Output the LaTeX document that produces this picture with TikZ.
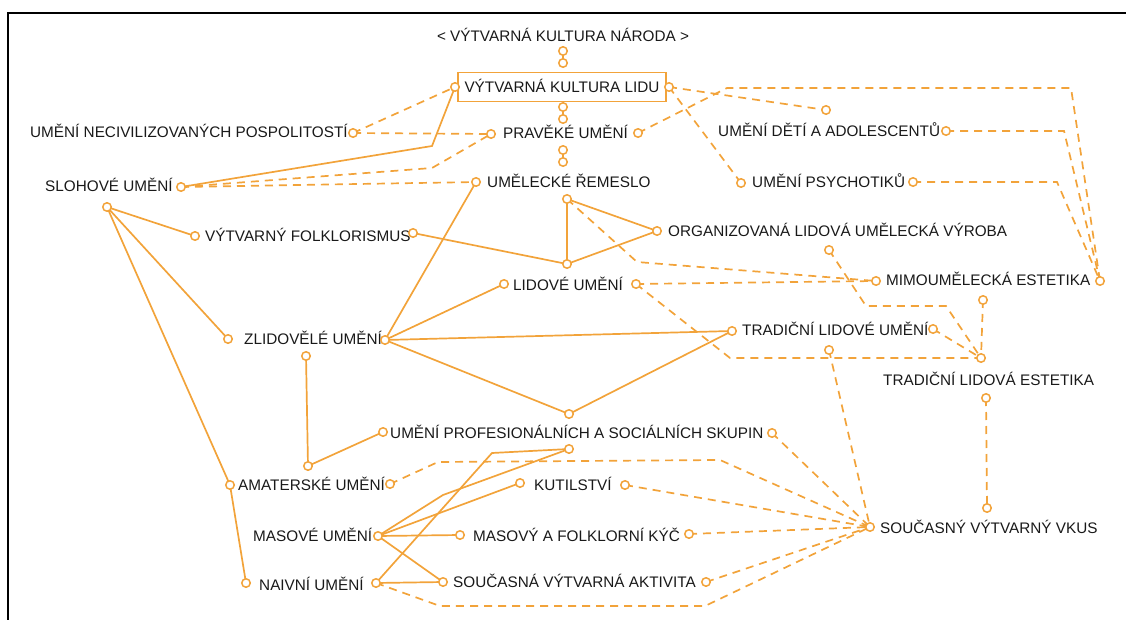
\documentclass[tikz,border=0pt]{standalone}
\usepackage{fontspec}
\setmainfont{Liberation Sans}
\definecolor{ornge}{RGB}{242,163,58}
\tikzset{
  lbl/.style={anchor=west, inner sep=0pt, text height=10.9pt, text depth=0pt, text=black!90, font=\fontsize{15.3}{18}\selectfont},
  link/.style={draw=ornge, line width=1.7pt},
  dlink/.style={link, dash pattern=on 8pt off 6pt},
  port/.style={circle, draw=ornge, fill=white, line width=1.5pt, minimum size=8.5pt, inner sep=0pt},
}

\begin{document}
\begin{tikzpicture}[x=1pt,y=-1pt]
	\useasboundingbox (0,0) rectangle (1126,620);
	\draw[line width=2pt] (7.5,630) -- (7.5,13.5) -- (1135,13.5);
	%\draw[help lines] (0,0) grid[step=50] (1126,620);

	% labels
	\node[lbl, anchor=center] (narod) at (563,36) {< VÝTVARNÁ KULTURA NÁRODA >};
	\node[lbl, anchor=center, draw=ornge, line width=1.7pt, minimum width=208pt, minimum height=29pt] (lidu) at (562,87) {VÝTVARNÁ KULTURA LIDU};
	\node[lbl] (prav) at (503,133) {PRAVĚKÉ UMĚNÍ};
	\node[lbl] (rem) at (487,182) {UMĚLECKÉ ŘEMESLO};
	\node[lbl] (neciv) at (30,132) {UMĚNÍ NECIVILIZOVANÝCH POSPOLITOSTÍ};
	\node[lbl] (slo) at (45,186) {SLOHOVÉ UMĚNÍ};
	\node[lbl] (deti) at (718,131) {UMĚNÍ DĚTÍ A ADOLESCENTŮ};
	\node[lbl] (psych) at (752,182) {UMĚNÍ PSYCHOTIKŮ};
	\node[lbl] (folk) at (205,236) {VÝTVARNÝ FOLKLORISMUS};
	\node[lbl] (org) at (668,231) {ORGANIZOVANÁ LIDOVÁ UMĚLECKÁ VÝROBA};
	\node[lbl] (lid) at (513,285) {LIDOVÉ UMĚNÍ};
	\node[lbl] (mimo) at (886,280) {MIMOUMĚLECKÁ ESTETIKA};
	\node[lbl] (zlid) at (244,339) {ZLIDOVĚLÉ UMĚNÍ};
	\node[lbl] (tlu) at (742,330) {TRADIČNÍ LIDOVÉ UMĚNÍ};
	\node[lbl] (tle) at (883,380) {TRADIČNÍ LIDOVÁ ESTETIKA};
	\node[lbl] (prof) at (390,433) {UMĚNÍ PROFESIONÁLNÍCH A SOCIÁLNÍCH SKUPIN};
	\node[lbl] (amat) at (238,485) {AMATERSKÉ UMĚNÍ};
	\node[lbl] (kut) at (534,485) {KUTILSTVÍ};
	\node[lbl] (mas) at (253,536) {MASOVÉ UMĚNÍ};
	\node[lbl] (kyc) at (473,536) {MASOVÝ A FOLKLORNÍ KÝČ};
	\node[lbl] (naiv) at (259,585) {NAIVNÍ UMĚNÍ};
	\node[lbl] (akt) at (453,582) {SOUČASNÁ VÝTVARNÁ AKTIVITA};
	\node[lbl] (vkus) at (880,528) {SOUČASNÝ VÝTVARNÝ VKUS};

	% ports
	\coordinate (narod-b) at (563,51);
	\coordinate (lidu-t) at (563,63);
	\coordinate (lidu-b) at (563,107);
	\coordinate (lidu-l) at (455,87);
	\coordinate (lidu-r) at (669,87);
	\coordinate (prav-t) at (563,119);
	\coordinate (prav-b) at (563,150);
	\coordinate (prav-l) at (491,134);
	\coordinate (prav-r) at (638,133);
	\coordinate (rem-t) at (563,162);
	\coordinate (rem-l) at (476,182);
	\coordinate (rem-b) at (567,199);
	\coordinate (neciv-r) at (353,133);
	\coordinate (slo-r) at (181,187);
	\coordinate (slo-b) at (107,207);
	\coordinate (deti-t) at (826,110);
	\coordinate (deti-r) at (946,131);
	\coordinate (psych-l) at (741,183);
	\coordinate (psych-r) at (913,182);
	\coordinate (folk-l) at (195,236);
	\coordinate (folk-r) at (413,233);
	\coordinate (org-l) at (657,231);
	\coordinate (org-b) at (829,250);
	\coordinate (lid-l) at (504,284);
	\coordinate (lid-r) at (636,284);
	\coordinate (lid-t) at (567,264);
	\coordinate (mimo-l) at (876,281);
	\coordinate (mimo-r) at (1100,281);
	\coordinate (mimo-b) at (983,300);
	\coordinate (zlid-l) at (228,339);
	\coordinate (zlid-r) at (385,340);
	\coordinate (zlid-b) at (306,356);
	\coordinate (tlu-l) at (732,331);
	\coordinate (tlu-r) at (933,329);
	\coordinate (tlu-b) at (829,350);
	\coordinate (tle-t) at (981,358);
	\coordinate (tle-b) at (986,398);
	\coordinate (prof-l) at (383,432);
	\coordinate (prof-r) at (772,433);
	\coordinate (prof-t) at (569,414);
	\coordinate (prof-b) at (569,449);
	\coordinate (amat-l) at (230,485);
	\coordinate (amat-r) at (390,484);
	\coordinate (amat-t) at (308,466);
	\coordinate (kut-l) at (520,483);
	\coordinate (kut-r) at (625,485);
	\coordinate (mas-r) at (378,536);
	\coordinate (kyc-l) at (460,535);
	\coordinate (kyc-r) at (689,534);
	\coordinate (naiv-l) at (246,583);
	\coordinate (naiv-r) at (376,583);
	\coordinate (akt-l) at (443,582);
	\coordinate (akt-r) at (706,582);
	\coordinate (vkus-l) at (870,527);
	\coordinate (vkus-t) at (987,508);

	% spine
	\draw[link] (narod-b) -- (lidu-t);
	\draw[link] (lidu-b) -- (prav-t);
	\draw[link] (prav-b) -- (rem-t);

	% upper left
	\draw[dlink] (neciv-r) -- (lidu-l);
	\draw[dlink] (neciv-r) -- (prav-l);
	\draw[link] (slo-r) -- (432,146) -- (lidu-l);
	\draw[dlink] (slo-r) -- (432,168) -- (prav-l);
	\draw[dlink] (slo-r) -- (rem-l);

	% upper right
	\draw[dlink] (lidu-r) -- (deti-t);
	\draw[dlink] (lidu-r) -- (psych-l);
	\draw[dlink] (prav-r) -- (727,88) -- (1071,88) -- (mimo-r);
	\draw[dlink] (deti-r) -- (1064,131) -- (mimo-r);
	\draw[dlink] (psych-r) -- (1057,182) -- (mimo-r);

	% middle
	\draw[link] (rem-l) -- (zlid-r);
	\draw[link] (rem-b) -- (lid-t);
	\draw[link] (rem-b) -- (org-l);
	\draw[link] (lid-t) -- (org-l);
	\draw[link] (folk-r) -- (lid-t);
	\draw[link] (slo-b) -- (folk-l);
	\draw[link] (slo-b) -- (zlid-l);
	\draw[link] (slo-b) -- (amat-l);
	\draw[link] (amat-l) -- (naiv-l);
	\draw[link] (zlid-r) -- (lid-l);
	\draw[link] (zlid-r) -- (tlu-l);
	\draw[link] (zlid-r) -- (prof-t);
	\draw[link] (prof-t) -- (tlu-l);
	\draw[link] (zlid-b) -- (amat-t);
	\draw[link] (amat-t) -- (prof-l);

	\draw[dlink] (rem-b) -- (637,262) -- (mimo-l);
	\draw[dlink] (lid-r) -- (mimo-l);
	\draw[dlink] (lid-r) -- (730,358) -- (tle-t);
	\draw[dlink] (org-b) -- (866,306) -- (946,306) -- (tle-t);
	\draw[dlink] (tlu-r) -- (tle-t);
	\draw[dlink] (mimo-b) -- (tle-t);
	\draw[dlink] (tle-b) -- (vkus-t);
	\draw[dlink] (tlu-b) -- (vkus-l);

	% lower part
	\draw[dlink] (amat-r) -- (438,462) -- (720,460) -- (vkus-l);
	\draw[dlink] (prof-r) -- (vkus-l);
	\draw[dlink] (kut-r) -- (vkus-l);
	\draw[dlink] (kyc-r) -- (vkus-l);
	\draw[dlink] (akt-r) -- (vkus-l);
	\draw[dlink] (naiv-r) -- (440,606) -- (705,606) -- (vkus-l);
	\draw[link] (mas-r) -- (kut-l);
	\draw[link] (mas-r) -- (kyc-l);
	\draw[link] (mas-r) -- (akt-l);
	\draw[link] (mas-r) -- (443,495) -- (prof-b);
	\draw[link] (naiv-r) -- (492,453) -- (prof-b);
	\draw[link] (naiv-r) -- (akt-l);

	% little circles on top
	\foreach \p in {narod-b,lidu-t,lidu-b,lidu-l,lidu-r,prav-t,prav-b,prav-l,prav-r,
		rem-t,rem-l,rem-b,neciv-r,slo-r,slo-b,deti-t,deti-r,psych-l,psych-r,
		folk-l,folk-r,org-l,org-b,lid-l,lid-r,lid-t,mimo-l,mimo-r,mimo-b,
		zlid-l,zlid-r,zlid-b,tlu-l,tlu-r,tlu-b,tle-t,tle-b,prof-l,prof-r,prof-t,prof-b,
		amat-l,amat-r,amat-t,kut-l,kut-r,mas-r,kyc-l,kyc-r,naiv-l,naiv-r,akt-l,akt-r,
		vkus-l,vkus-t}
		\node[port] at (\p) {};
\end{tikzpicture}
\end{document}
